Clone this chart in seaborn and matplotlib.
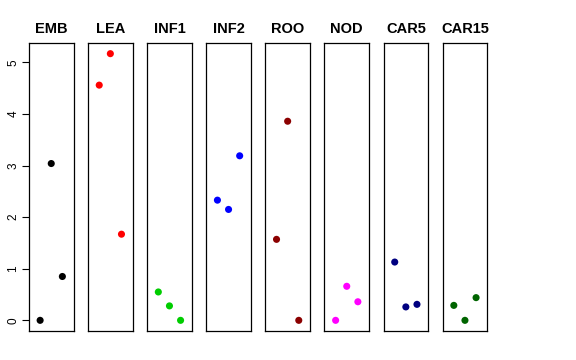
import pandas as pd
import numpy as np
import matplotlib
matplotlib.use("Agg")
import matplotlib.pyplot as plt
import seaborn as sns

# ------------------------------------------
# Data
# ------------------------------------------
tissues = ["EMB", "LEA", "INF1", "INF2", "ROO", "NOD", "CAR5", "CAR15"]
colors = ["#000000", "#FF0000", "#00CD00", "#0000FF", "#8B0000", "#FF00FF", "#000080", "#006400"]
positions = [1, 2, 3]

emb = [0.00, 3.04, 0.85]
lea = [4.56, 5.17, 1.67]
inf1 = [0.55, 0.28, 0.00]
inf2 = [2.33, 2.15, 3.19]
roo = [1.57, 3.86, 0.00]
nod = [0.00, 0.66, 0.36]
car5 = [1.13, 0.26, 0.31]
car15 = [0.29, 0.00, 0.44]

values = [emb, lea, inf1, inf2, roo, nod, car5, car15]

rows = []
for t, vals in zip(tissues, values):
    for p, v in zip(positions, vals):
        rows.append({"tissue": t, "pos": p, "value": v})
df = pd.DataFrame(rows)

# ------------------------------------------
# Plot
# ------------------------------------------
sns.set_style("white")
plt.rcParams["font.family"] = ["Liberation Sans", "DejaVu Sans"]
plt.rcParams["text.color"] = "black"
plt.rcParams["ytick.color"] = "black"

fig = plt.figure(figsize=(5.76, 3.6), dpi=100)

ymax = df["value"].max()
pad = ymax * 0.04
left0 = 29 / 576
step = 59.1 / 576
width = 44.5 / 576
bottom = 1 - 331 / 360
height = (331 - 43) / 360

for i, (t, c) in enumerate(zip(tissues, colors)):
    ax = fig.add_axes([left0 + i * step, bottom, width, height])
    sub = df[df["tissue"] == t]
    sns.scatterplot(data=sub, x="pos", y="value", color=c, s=26,
                    edgecolor="none", ax=ax, legend=False)
    ax.set_xlim(0, 4)
    ax.set_ylim(-pad, ymax + pad)
    ax.set_xticks([])
    ax.set_xlabel("")
    ax.set_ylabel("")
    ax.set_title(t, fontsize=10.5, fontweight="bold", pad=7, color="black")
    for sp in ax.spines.values():
        sp.set_visible(True)
        sp.set_color("black")
        sp.set_linewidth(0.9)
    if i == 0:
        ax.set_yticks([0, 1, 2, 3, 4, 5])
        ax.tick_params(axis="y", left=True, length=5, width=0.8,
                       labelsize=8.5, pad=2, labelrotation=90,
                       colors="black")
        for lab in ax.get_yticklabels():
            lab.set_va("center")
    else:
        ax.set_yticks([])

plt.savefig("out.png", dpi=100)
